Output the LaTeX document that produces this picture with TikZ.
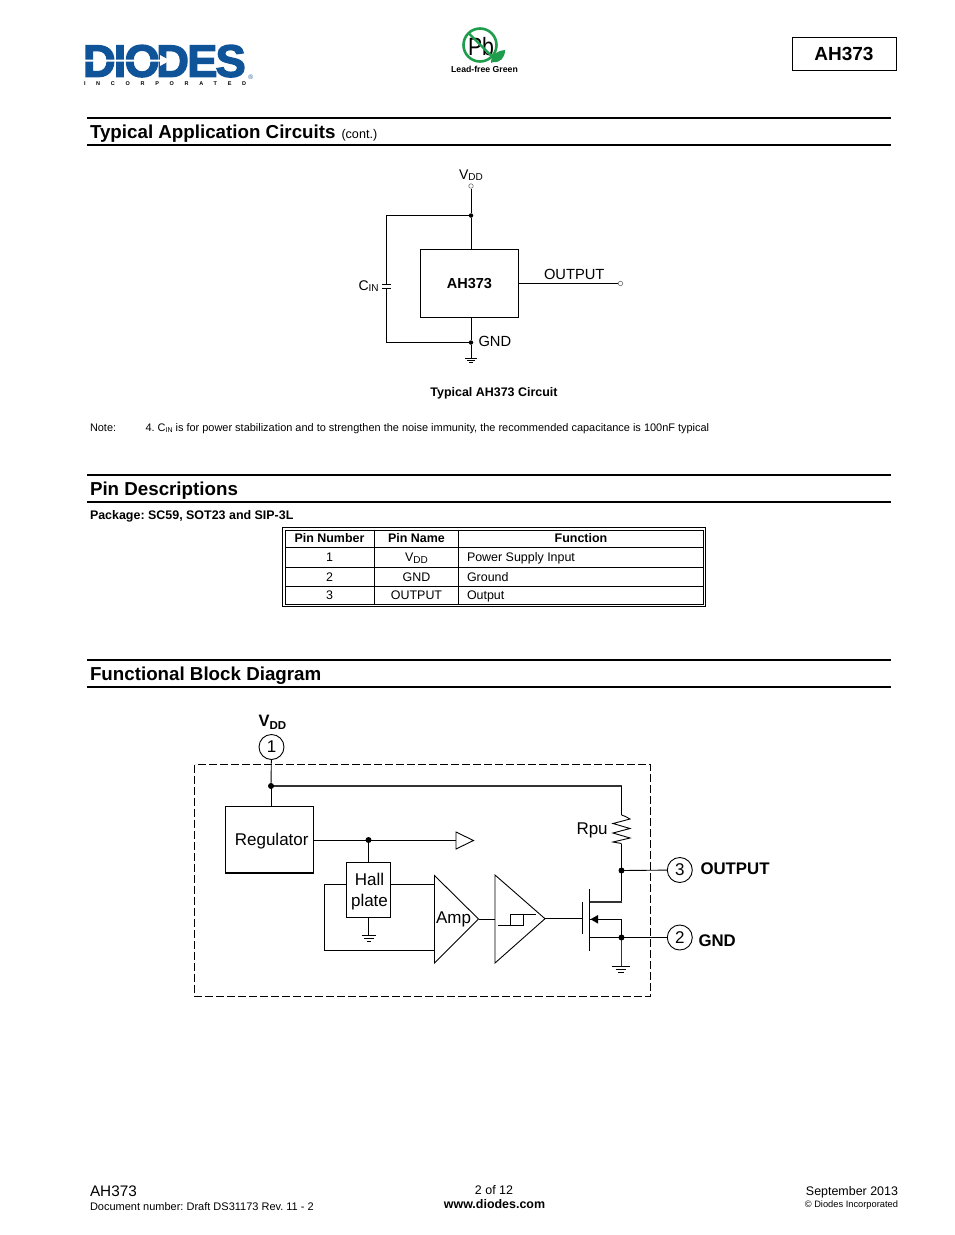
\documentclass[tikz,border=0pt]{standalone}
\usepackage{fontspec}
\usepackage{graphicx}
\setmainfont{Liberation Sans}
\newfontfamily\logofont[FakeBold=3]{Liberation Sans Bold}
\usetikzlibrary{arrows.meta}
\frenchspacing
\definecolor{logoblue}{HTML}{0F5499}
\definecolor{pbgreen}{HTML}{1F9D4D}
\newcommand{\fsz}[1]{\fontsize{#1}{#1}\selectfont}
\newcommand{\lowsub}[2]{\raisebox{-0.2em}{\fsz{#1}#2}}
\newcommand{\nearsub}[2]{\raisebox{-0.1em}{\fsz{#1}#2}}
\tikzset{
  x=1pt,y=-1pt,
  lbl/.style={inner sep=0pt,outer sep=0pt,anchor=base west,text=black},
  lblc/.style={inner sep=0pt,outer sep=0pt,anchor=base,text=black},
  lblr/.style={inner sep=0pt,outer sep=0pt,anchor=base east,text=black},
  rule/.style={line width=1.8pt,black},
  wire/.style={line width=0.9pt,black},
  thinw/.style={line width=0.7pt,black},
  heavyw/.style={line width=1.8pt,black!80},
  dot/.style={circle,inner sep=0pt,outer sep=0pt,minimum size=2pt},
  smalldot/.style={circle,fill=black,inner sep=0pt,minimum size=4.5pt},
  pin/.style={circle,draw=black,line width=0.9pt,fill=white,inner sep=0pt,minimum size=25pt,font=\fsz{17}},
  term/.style={circle,draw=black!55,line width=0.6pt,fill=white,inner sep=0pt,minimum size=4.5pt},
  blockbox/.style={draw=black,line width=0.9pt,inner sep=0pt,fill=white},
}
\begin{document}
\begin{tikzpicture}
\fill[white] (0,0) rectangle (954,1235);
\useasboundingbox (0,0) rectangle (954,1235);

% --- header
\node[lbl,text=logoblue] (logo) at (83,76.7) {\fsz{45.3}\logofont D\kern-2ptI\kern-1.8ptO\kern-3.5ptD\kern-1.8ptE\kern-1.8ptS};
\fill[white] (84,59.5) -- (160,59.5) -- (160,55) -- (170,60.5) -- (160,66) -- (160,61.5) -- (84,61.5) -- cycle;
\node[lbl,text=logoblue] (reg) at (248.3,79) {\fsz{6.5}®};
\node[lbl] (inc) at (84,85) {\fsz{5.5}\bfseries\addfontfeature{LetterSpace=195}INCORPORATED};
\node[lblc] (pb) at (481,55) {\scalebox{0.85}[1]{\fsz{25}Pb}};
\draw[pbgreen,line width=2.6pt] (480,45) circle[radius=16.5];
\draw[pbgreen,line width=2.4pt] (468.5,33) -- (492,56.5);
\fill[pbgreen] (491,63) .. controls (491,54) and (497,51) .. (505,50) .. controls (505,58) and (500,63) .. (493,62) -- cycle;
\node[lblc] (leadfree) at (484.5,72.5) {\fsz{8.7}\bfseries Lead-free Green};
\node[draw=black,line width=1pt,minimum width=104pt,minimum height=33.5pt,inner sep=0pt,font=\fsz{19}\bfseries] (part) at (844,54) {AH373};
\draw[line width=1.7pt] (part.north east) -- (part.south east);

% --- section rules
\draw[rule] (87,118) -- (891,118);
\draw[rule] (87,145) -- (891,145);
\draw[rule] (87,475) -- (891,475);
\draw[rule] (87,502) -- (891,502);
\draw[rule] (87,660) -- (891,660);
\draw[rule] (87,687) -- (891,687);
\node[lbl] (h1) at (90,138.5) {\fsz{18.75}\bfseries Typical Application Circuits};
\node[lbl] (h1b) at (341.5,138.5) {\fsz{12.6}(cont.)};
\node[lbl] (h2) at (90,495) {\fsz{18.75}\bfseries Pin Descriptions};
\node[lbl] (h3) at (90,680) {\fsz{18.75}\bfseries Functional Block Diagram};

% --- application circuit
\node[draw=black,line width=0.8pt,minimum width=98pt,minimum height=68pt,inner sep=0pt,font=\fsz{14.5}\bfseries] (ic) at (469.5,283.5) {\raisebox{1pt}{AH373}};
\node[term] (vddt) at (471,186) {};
\node[smalldot] (jt) at (471,215.5) {};
\node[smalldot] (jb) at (471,342.5) {};
\node[term] (outt) at (620.5,283.5) {};
\coordinate (gndt) at (471,358.5);
\coordinate (capa) at (386.5,284);
\coordinate (capb) at (386.5,288);
\coordinate (tl) at (386.5,215.5);
\coordinate (bl) at (386.5,342.5);
\draw[thinw] (vddt) -- (jt);
\draw[thinw] (jt) -- (jt |- ic.north);
\draw[thinw] (jt) -- (tl) -- (capa);
\draw[thinw] (capb) -- (bl) -- (jb);
\draw[thinw] (jb |- ic.south) -- (jb);
\draw[thinw] (jb) -- (gndt);
\draw[thinw] (ic.east) -- (outt);
\draw[thinw] (382.2,284) -- (391.2,284) (382.2,288) -- (391.2,288);
\draw[thinw] (465,358.5) -- (477,358.5) (467,360.7) -- (475,360.7) (469,362.8) -- (473,362.8);
\node[lbl] (vddl) at (459,179.5) {\fsz{14}V\nearsub{10}{DD}};
\node[lbl] (cinl) at (358.5,290.3) {\fsz{14}C\nearsub{10}{IN}};
\node[lbl] (gndl) at (478.5,346) {\fsz{14.7}GND};
\node[lbl] (outl) at (544,279) {\fsz{14.7}OUTPUT};
\node[lblc] (cap) at (494,396) {\fsz{12.45}\bfseries Typical AH373 Circuit};
\node[lbl] (note) at (90,431) {\fsz{10.95}Note:};
\node[lbl] (note4) at (145.5,431) {\fsz{10.95}4. C\nearsub{7}{IN} is for power stabilization and to strengthen the noise immunity, the recommended capacitance is 100nF typical};

% --- table
\node[lbl] (pkg) at (90,519) {\fsz{12.45}\bfseries Package: SC59, SOT23 and SIP-3L};
\draw[line width=0.8pt] (282.5,527.5) rectangle (705.5,606.5);
\draw[line width=0.8pt] (285,530) rectangle (703.5,604.5);
\draw[line width=0.8pt] (374.5,530) -- (374.5,604.5) (458.5,530) -- (458.5,604.5);
\draw[line width=0.8pt] (285,547.5) -- (703.5,547.5) (285,567.5) -- (703.5,567.5) (285,586) -- (703.5,586);
\node[lblc] (th1) at (329.5,542) {\fsz{12.45}\bfseries Pin Number};
\node[lblc] (th2) at (416.5,542) {\fsz{12.45}\bfseries Pin Name};
\node[lblc] (th3) at (581,542) {\fsz{12.45}\bfseries Function};
\node[lblc] (c11) at (329.5,561) {\fsz{12.45}1};
\node[lblc] (c12) at (416.5,561) {\fsz{12.45}V\raisebox{-0.16em}{\fsz{10}DD}};
\node[lbl] (c13) at (467,561) {\fsz{12.45}Power Supply Input};
\node[lblc] (c21) at (329.5,581) {\fsz{12.45}2};
\node[lblc] (c22) at (416.5,581) {\fsz{12.45}GND};
\node[lbl] (c23) at (467,581) {\fsz{12.45}Ground};
\node[lblc] (c31) at (329.5,599) {\fsz{12.45}3};
\node[lblc] (c32) at (416.5,599) {\fsz{12.45}OUTPUT};
\node[lbl] (c33) at (467,599) {\fsz{12.45}Output};

% --- block diagram
\draw[line width=0.9pt,dash pattern=on 8pt off 3pt] (194.5,764.5) rectangle (650.5,996);
\node[lbl] (vddb) at (258.5,726) {\fsz{16.5}\bfseries V\lowsub{11.5}{\bfseries DD}};
\node[pin] (p1) at (271.5,747) {1};
\node[pin] (p3) at (679.8,870) {3};
\node[pin] (p2) at (679.8,937.5) {2};
\node[lbl] (outb) at (700.5,874) {\fsz{16.8}\bfseries OUTPUT};
\node[lbl] (gndb) at (698.5,946) {\fsz{16.8}\bfseries GND};
\node[blockbox,minimum width=88pt,minimum height=66.5pt] (regb) at (269.5,839.7) {};
\node[lblc] (regt) at (271.7,845) {\fsz{17}Regulator};
\draw[line width=1.6pt] (225,873) -- (314,873);
\node[blockbox,minimum width=44pt,minimum height=55pt] (hall) at (368.5,889.7) {};
\node[lblc] (hallt) at (369.5,885) {\fsz{17}Hall};
\node[lblc] (platet) at (369.5,906) {\fsz{17}plate};
\node[dot] (j1) at (271,786) {};
\node[dot] (j2) at (368.5,840) {};
\node[dot] (j3) at (621.5,870.5) {};
\node[dot] (j4) at (621.5,937.5) {};
\coordinate (trtop) at (621.5,786);
\coordinate (rtop) at (621.5,815);
\coordinate (rbot) at (621.5,843.5);
\coordinate (drain) at (621.5,902);
\coordinate (chd) at (589.7,902);
\coordinate (chs) at (589.7,919.3);
\coordinate (src) at (621.5,919.3);
\coordinate (chg) at (589.7,937.5);
\coordinate (gnd1) at (621.5,966.5);
\coordinate (gnd2) at (368.5,935);
\coordinate (buf) at (456,840);
\coordinate (loop) at (324.5,884);
\coordinate (loopb) at (324.5,950);
\coordinate (ampa) at (434.5,884);
\coordinate (ampb) at (434.5,950);
\coordinate (hallr) at (390.5,884);
\coordinate (halll) at (346.5,884);
\coordinate (amptip) at (478.5,919);
\coordinate (schin) at (495,919);
\coordinate (schtip) at (545,918.7);
\coordinate (gate) at (582.7,918.7);
\draw[wire] (p1) -- (j1);
\draw[wire] (j1) -- (j1 |- regb.north);
\draw[heavyw] (j1) -- (trtop);
\draw[wire] (trtop) -- (rtop);
\draw[wire] (rtop) -- (625.5,816.5) -- (630,819) -- (613,823.5) -- (630,828.5) -- (613,833) -- (630,838) -- (613,842) -- (rbot);
\draw[wire] (rbot) -- (j3);
\draw[wire] (j3) -- (drain);
\draw[wire] (j3) -- (p3);
\draw[heavyw] (chd) -- (drain);
\draw[wire] (regb.east |- buf) -- (j2);
\draw[wire] (j2) -- (buf);
\draw[wire] (j2) -- (j2 |- hall.north);
\draw[wire,fill=white] (456,832) -- (473.5,840.5) -- (456,849) -- cycle;
\draw[wire] (hallr) -- (ampa);
\draw[wire] (halll) -- (loop) -- (loopb) -- (ampb);
\draw[wire] (hall.south) -- (gnd2);
\draw[wire] (361.5,935) -- (376,935) (364,938) -- (373.5,938) (366.5,941) -- (371,941);
\draw[wire,line join=miter] (434.5,875.5) -- (amptip) -- (434.5,963) -- cycle;
\node[lblc] (amp) at (453.5,923) {\fsz{17}Amp};
\draw[wire] (amptip) -- (schin);
\draw[wire] (495,875) -- (schtip) -- (495,963) -- cycle;
\draw[wire] (498,925.7) -- (523,925.7) -- (523,914) -- (510.7,914) -- (510.7,925.7);
\draw[wire] (523,914) -- (535.7,914);
\draw[wire] (schtip) -- (gate);
\draw[wire] (gate |- 0,901.7) -- (gate |- 0,933.5);
\draw[wire] (589.7,889) -- (589.7,950.7);
\draw[wire] (chs) -- (src) -- (j4);
\fill[black] (590.5,919.3) -- (598,915) -- (598,923.6) -- cycle;
\draw[wire] (chg) -- (j4);
\draw[wire] (j4) -- (p2);
\draw[heavyw] (j4) -- (gnd1);
\draw[wire] (611.7,966.7) -- (630,966.7) (615.5,969.5) -- (626,969.5) (618,972.2) -- (623.5,972.2);
\foreach \j in {j1,j2,j3,j4} \fill[black] (\j) circle[radius=3];
\node[lbl] (rpu) at (576.5,834) {\fsz{17}Rpu};

% --- footer
\node[lbl] (f1) at (90,1196) {\fsz{15.3}AH373};
\node[lbl] (f2) at (90,1210) {\fsz{11}Document number: Draft DS31173 Rev. 11 - 2};
\node[lblc] (f3) at (494,1194) {\fsz{12.45}2 of 12};
\node[lblc] (f4) at (494.5,1208) {\fsz{12.45}\bfseries www.diodes.com};
\node[lblr] (f5) at (898,1195) {\fsz{12.45}September 2013};
\node[lblr] (f6) at (898,1207) {\fsz{9.3}© Diodes Incorporated};
\end{tikzpicture}
\end{document}
